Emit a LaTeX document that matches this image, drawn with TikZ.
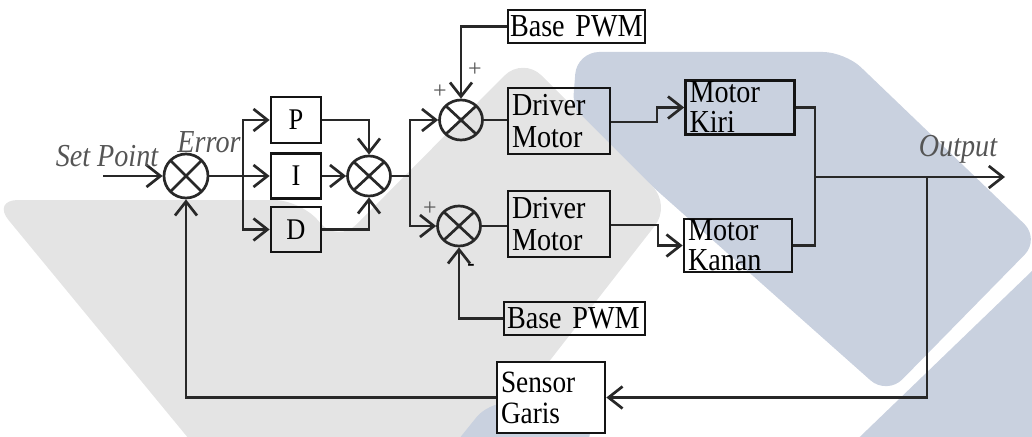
\documentclass[tikz,border=0pt]{standalone}
\usepackage{fontspec}
\setmainfont{Liberation Serif}
\newfontfamily\cond[FakeStretch=0.88]{Liberation Serif}
\usetikzlibrary{arrows.meta,shapes.geometric}
\definecolor{wmgray}{RGB}{228,228,228}
\definecolor{wmblue}{RGB}{201,209,223}
\definecolor{ln}{RGB}{40,40,40}
\definecolor{lbl}{RGB}{85,85,85}
\begin{document}
\begin{tikzpicture}[x=1pt,y=-1pt,
  conn/.style={draw=ln, line width=2.7pt},
  arr/.style={conn, -{Straight Barb[length=14pt,width=22pt]}},
  blk/.style={draw=black!92, line width=2.7pt, inner sep=0pt, font=\cond\fontsize{32}{32}\selectfont, align=left},
  summer/.style={draw=ln, line width=2.7pt, ellipse, minimum width=43pt, minimum height=40pt, inner sep=0pt,
    path picture={\draw[ln, line width=2.7pt] (path picture bounding box.north west) -- (path picture bounding box.south east)
      (path picture bounding box.north east) -- (path picture bounding box.south west);}},
  ital/.style={font=\cond\fontsize{32}{32}\selectfont\itshape, text=lbl, inner sep=0pt},
  sgn/.style={font=\fontsize{24}{24}\selectfont, text=lbl, inner sep=0pt}
]
\useasboundingbox (0,0) rectangle (1032,436);
% watermark background
\begin{scope}
\clip (0,0) rectangle (1032,436);
\fill[wmblue, rounded corners=22pt] (577,52) -- (845,52) -- (1040,239) -- (887,395) -- (572,115) -- cycle;
\fill[wmgray, rounded corners=26pt] (-8,200) -- (300,200) -- (338,243) -- (523,57) -- (671,205) -- (449,490) -- (231,490) -- cycle;
\fill[wmblue, rounded corners=20pt] (840,456) -- (1060,244) -- (1070,456) -- cycle;
\fill[wmblue, rounded corners=18pt] (450,450) -- (488,403) -- (590,403) -- (590,450) -- cycle;
\end{scope}
% blocks
\node[summer, minimum width=44pt, minimum height=44pt] (err) at (186,176) {};
\node[blk, minimum width=50pt, minimum height=46pt, align=center, font=\cond\fontsize{30}{30}\selectfont] (P) at (296,120) {P};
\node[blk, minimum width=50pt, minimum height=45pt, align=center, font=\cond\fontsize{30}{30}\selectfont] (I) at (296,176) {I};
\node[blk, minimum width=50pt, minimum height=45pt, align=center, font=\cond\fontsize{30}{30}\selectfont] (D) at (296,229.5) {D};
\node[summer] (sum2) at (369,176) {};
\node[summer] (sum3) at (461,120) {};
\node[summer] (sum4) at (459,226) {};
\node[blk, minimum width=102pt, minimum height=66pt, text width=94pt] (drv1) at (559,121) {Driver\\Motor};
\node[blk, minimum width=102pt, minimum height=66pt, text width=94pt] (drv2) at (559,224) {Driver\\Motor};
\node[blk, minimum width=109pt, minimum height=54pt, text width=101pt, font=\cond\fontsize{32}{30}\selectfont] (mk) at (740,107.5) {Motor\\Kiri};
\node[blk, minimum width=108pt, minimum height=53pt, text width=100pt, font=\cond\fontsize{32}{30}\selectfont] (mn) at (738,245.5) {Motor\\Kanan};
\node[blk, minimum width=137pt, minimum height=33pt, text width=133pt] (pwm1) at (576.5,26.5) {Base PWM};
\node[blk, minimum width=141pt, minimum height=33pt, text width=135pt] (pwm2) at (574.5,318.5) {Base PWM};
\node[blk, fill=white, minimum width=108pt, minimum height=71pt, text width=100pt, font=\cond\fontsize{31}{31}\selectfont] (sg) at (551,397.5) {Sensor\\Garis};
% connectors
\coordinate (sp) at (103,176);
\draw[arr] (sp) -- (err.west);
\coordinate (b1) at (243,176);
\draw[conn] (err.east) -- (b1);
\draw[arr] (b1) |- (P.west);
\draw[arr] (b1) -- (I.west);
\draw[arr] (b1) |- (D.west);
\draw[arr] (P.east) -| (sum2.north);
\draw[arr] (I.east) -- (sum2.west);
\draw[arr] (D.east) -| (sum2.south);
\coordinate (b2) at (410,176);
\draw[conn] (sum2.east) -- (b2);
\draw[arr] (b2) |- (sum3.west);
\draw[arr] (b2) |- (sum4.west);
\draw[conn] (sum3.east) -- (sum3.east -| drv1.west);
\draw[conn] (sum4.east) -- (sum4.east -| drv2.west);
\draw[arr] (pwm1.west) -| (sum3.north);
\draw[arr] (pwm2.west) -| (sum4.south);
\coordinate (k1) at (657,122);
\coordinate (k2) at (657,107.5);
\draw[arr] (drv1.east |- k1) -- (k1) -- (k2) -- (mk.west);
\coordinate (k3) at (658,225);
\coordinate (k4) at (658,245.5);
\draw[arr] (drv2.east |- k3) -- (k3) -- (k4) -- (mn.west);
\coordinate (jn) at (815,177);
\draw[conn] (mk.east) -| (jn) |- (mn.east);
\coordinate (out) at (1005,177);
\draw[arr] (jn) -- (out);
\coordinate (fb) at (927,177);
\draw[arr] (fb) |- (sg.east);
\draw[arr] (sg.west) -| (err.south);
% labels
\node[ital, anchor=base] (lsp) at (107,166) {Set Point};
\node[ital, anchor=base] (lerr) at (209,152) {Error};
\node[ital, anchor=base] (lout) at (958,156) {Output};
\node[sgn] (s1) at (475,70) {+};
\node[sgn] (s2) at (440,92) {+};
\node[sgn] (s3) at (430,209) {+};
\node[font=\fontsize{22}{22}\selectfont\bfseries, inner sep=0pt] (s4) at (471,267) {-};
\end{tikzpicture}
\end{document}
